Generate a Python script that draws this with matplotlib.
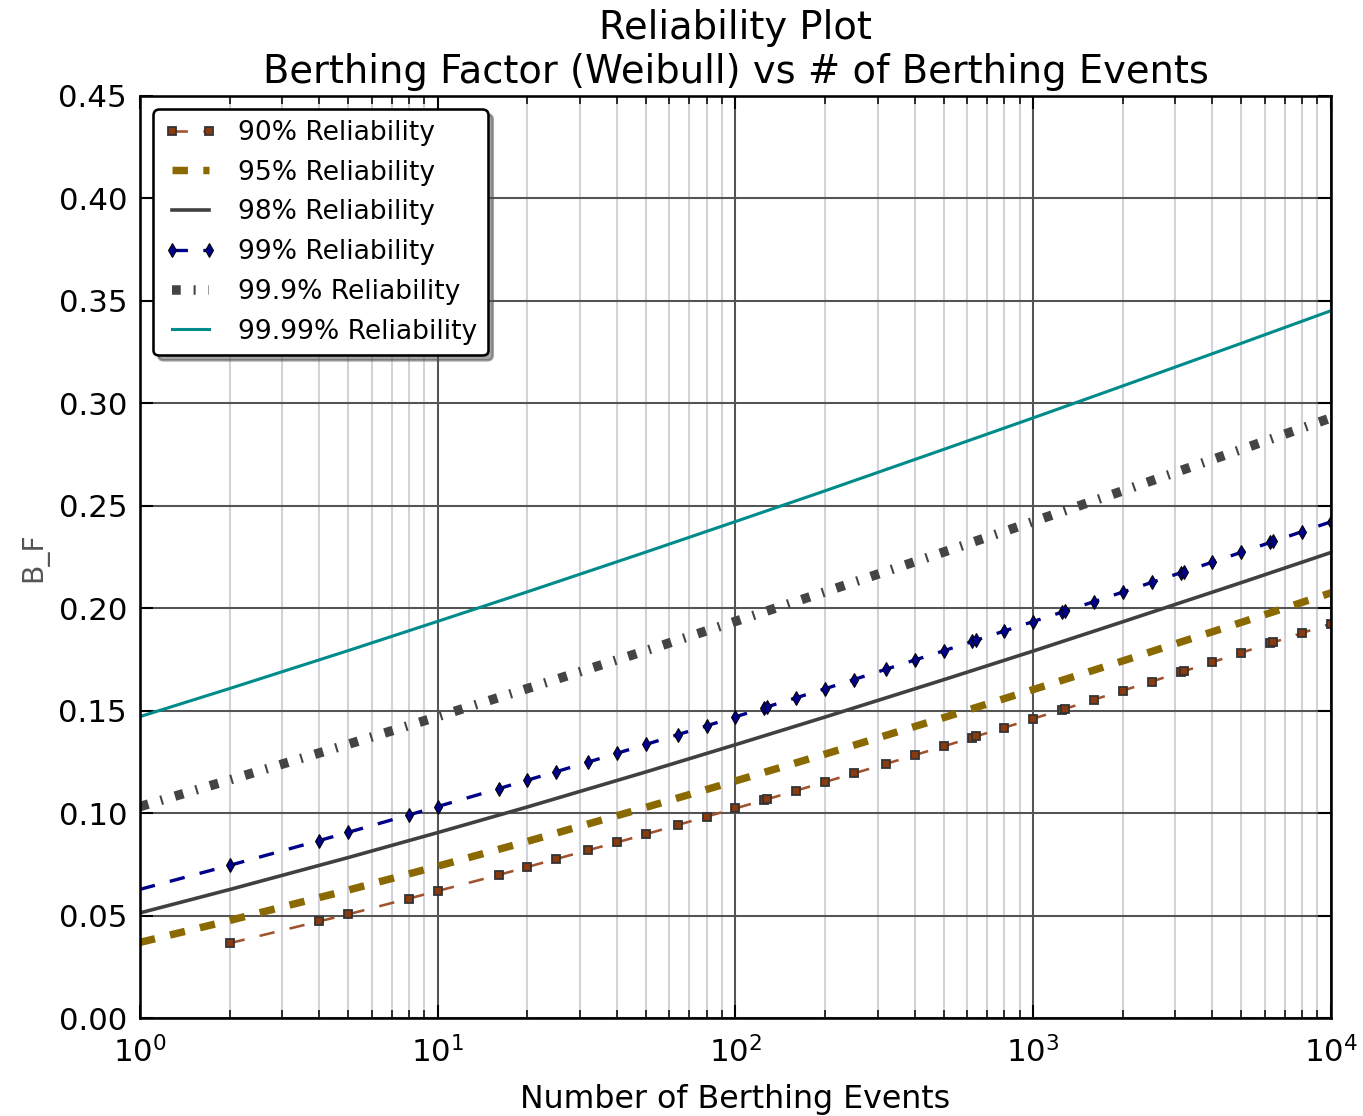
import matplotlib
matplotlib.use("Agg")
import matplotlib.pyplot as plt
from matplotlib.ticker import FormatStrFormatter, MultipleLocator

plt.rcParams["font.family"] = "DejaVu Sans"
plt.rcParams["lines.scale_dashes"] = False

# number of berthing events where the marked curves were evaluated
events = [2, 4, 5, 8, 10, 16, 20, 25, 32, 40, 50, 64, 80, 100, 125, 128, 160,
          200, 250, 320, 400, 500, 625, 640, 800, 1000, 1250, 1280, 1600, 2000,
          2500, 3125, 3200, 4000, 5000, 6250, 6400, 8000, 10000]
events_99 = [1] + events
events_curve = [1, 2, 5, 10, 20, 50, 100, 200, 500, 1000, 2000, 5000, 10000]

# berthing factor for each reliability level
bf_90 = [0.0365, 0.0472, 0.0506, 0.0583, 0.0620, 0.0698, 0.0737, 0.0776,
         0.0819, 0.0857, 0.0897, 0.0942, 0.0983, 0.1023, 0.1064, 0.1068,
         0.1110, 0.1152, 0.1194, 0.1240, 0.1283, 0.1326, 0.1369, 0.1374,
         0.1417, 0.1461, 0.1505, 0.1509, 0.1554, 0.1598, 0.1642, 0.1688,
         0.1692, 0.1737, 0.1783, 0.1828, 0.1833, 0.1879, 0.1925]
bf_99 = [0.0628, 0.0745, 0.0866, 0.0906, 0.0991, 0.1032, 0.1119, 0.1161,
         0.1202, 0.1249, 0.1292, 0.1335, 0.1383, 0.1426, 0.1470, 0.1514,
         0.1519, 0.1563, 0.1607, 0.1652, 0.1702, 0.1747, 0.1792, 0.1838,
         0.1843, 0.1889, 0.1935, 0.1981, 0.1986, 0.2032, 0.2079, 0.2126,
         0.2173, 0.2178, 0.2225, 0.2273, 0.2321, 0.2326, 0.2374, 0.2422]
bf_95 = [0.0369, 0.0476, 0.0624, 0.0741, 0.0862, 0.1028, 0.1157, 0.1288,
         0.1466, 0.1603, 0.1743, 0.1931, 0.2075]
bf_98 = [0.0513, 0.0627, 0.0783, 0.0905, 0.1030, 0.1201, 0.1334, 0.1469,
         0.1651, 0.1791, 0.1934, 0.2125, 0.2272]
bf_999 = [0.1032, 0.1162, 0.1336, 0.1471, 0.1608, 0.1793, 0.1936, 0.2080,
          0.2274, 0.2423, 0.2573, 0.2775, 0.2929]
bf_9999 = [0.1471, 0.1608, 0.1793, 0.1936, 0.2080, 0.2274, 0.2423, 0.2573,
           0.2775, 0.2929, 0.3085, 0.3293, 0.3452]

fig = plt.figure(figsize=(1363 / 185, 1116 / 185), dpi=185, facecolor="white")
ax = fig.add_axes([0.1027, 0.0878, 0.8738, 0.8262])

ax.plot(events, bf_90, color="sienna", lw=1.0, dashes=(6, 6), marker="s",
        ms=3.4, mfc="#8b3a0e", mec="#333333", mew=0.7, label="90% Reliability")
ax.plot(events_curve, bf_95, color="#8a6a00", lw=2.9, dashes=(6, 6),
        label="95% Reliability")
ax.plot(events_curve, bf_98, color="#404040", lw=1.4, label="98% Reliability")
ax.plot(events_99, bf_99, color="#00008b", lw=1.3, dashes=(6, 6), marker="d",
        ms=4.0, mfc="#00008b", mec="black", mew=0.4,
        markevery=range(1, len(events_99)), label="99% Reliability")
ax.plot(events_curve, bf_999, color="#444444", lw=3.7, dashes=(3.4, 5, 0.8, 5),
        label="99.9% Reliability")
ax.plot(events_curve, bf_9999, color="#008b8b", lw=1.2,
        label="99.99% Reliability")

ax.set_xscale("log")
ax.set_xlim(1, 1e4)
ax.set_ylim(0, 0.45)
ax.yaxis.set_major_locator(MultipleLocator(0.05))
ax.yaxis.set_major_formatter(FormatStrFormatter("%.2f"))

ax.set_axisbelow(True)
ax.grid(True, which="major", color="#555555", lw=0.8, ls="-")
ax.grid(True, which="minor", axis="x", color="#d2d2da", lw=0.8, ls="-")

ax.tick_params(which="both", direction="in", top=True, right=True,
               labelsize=12)
ax.tick_params(which="major", length=5, width=0.8)
ax.tick_params(which="minor", length=3, width=0.6)
ax.tick_params(axis="x", pad=7)
ax.tick_params(axis="y", pad=5)
for sp in ax.spines.values():
    sp.set_linewidth(1.0)

ax.set_title("Reliability Plot\nBerthing Factor (Weibull) vs # of Berthing Events",
             fontsize=15, pad=5)
ax.set_xlabel("Number of Berthing Events", fontsize=12.3, labelpad=6)
ax.set_ylabel("B_F", fontsize=11, color="#555555")

ax.legend(loc="upper left", fontsize=10.3, numpoints=2, fancybox=True,
          shadow=True, framealpha=1, edgecolor="black", handlelength=2.0,
          labelspacing=0.52, borderaxespad=0.5)

fig.savefig("out.png", dpi=185, facecolor="white")
